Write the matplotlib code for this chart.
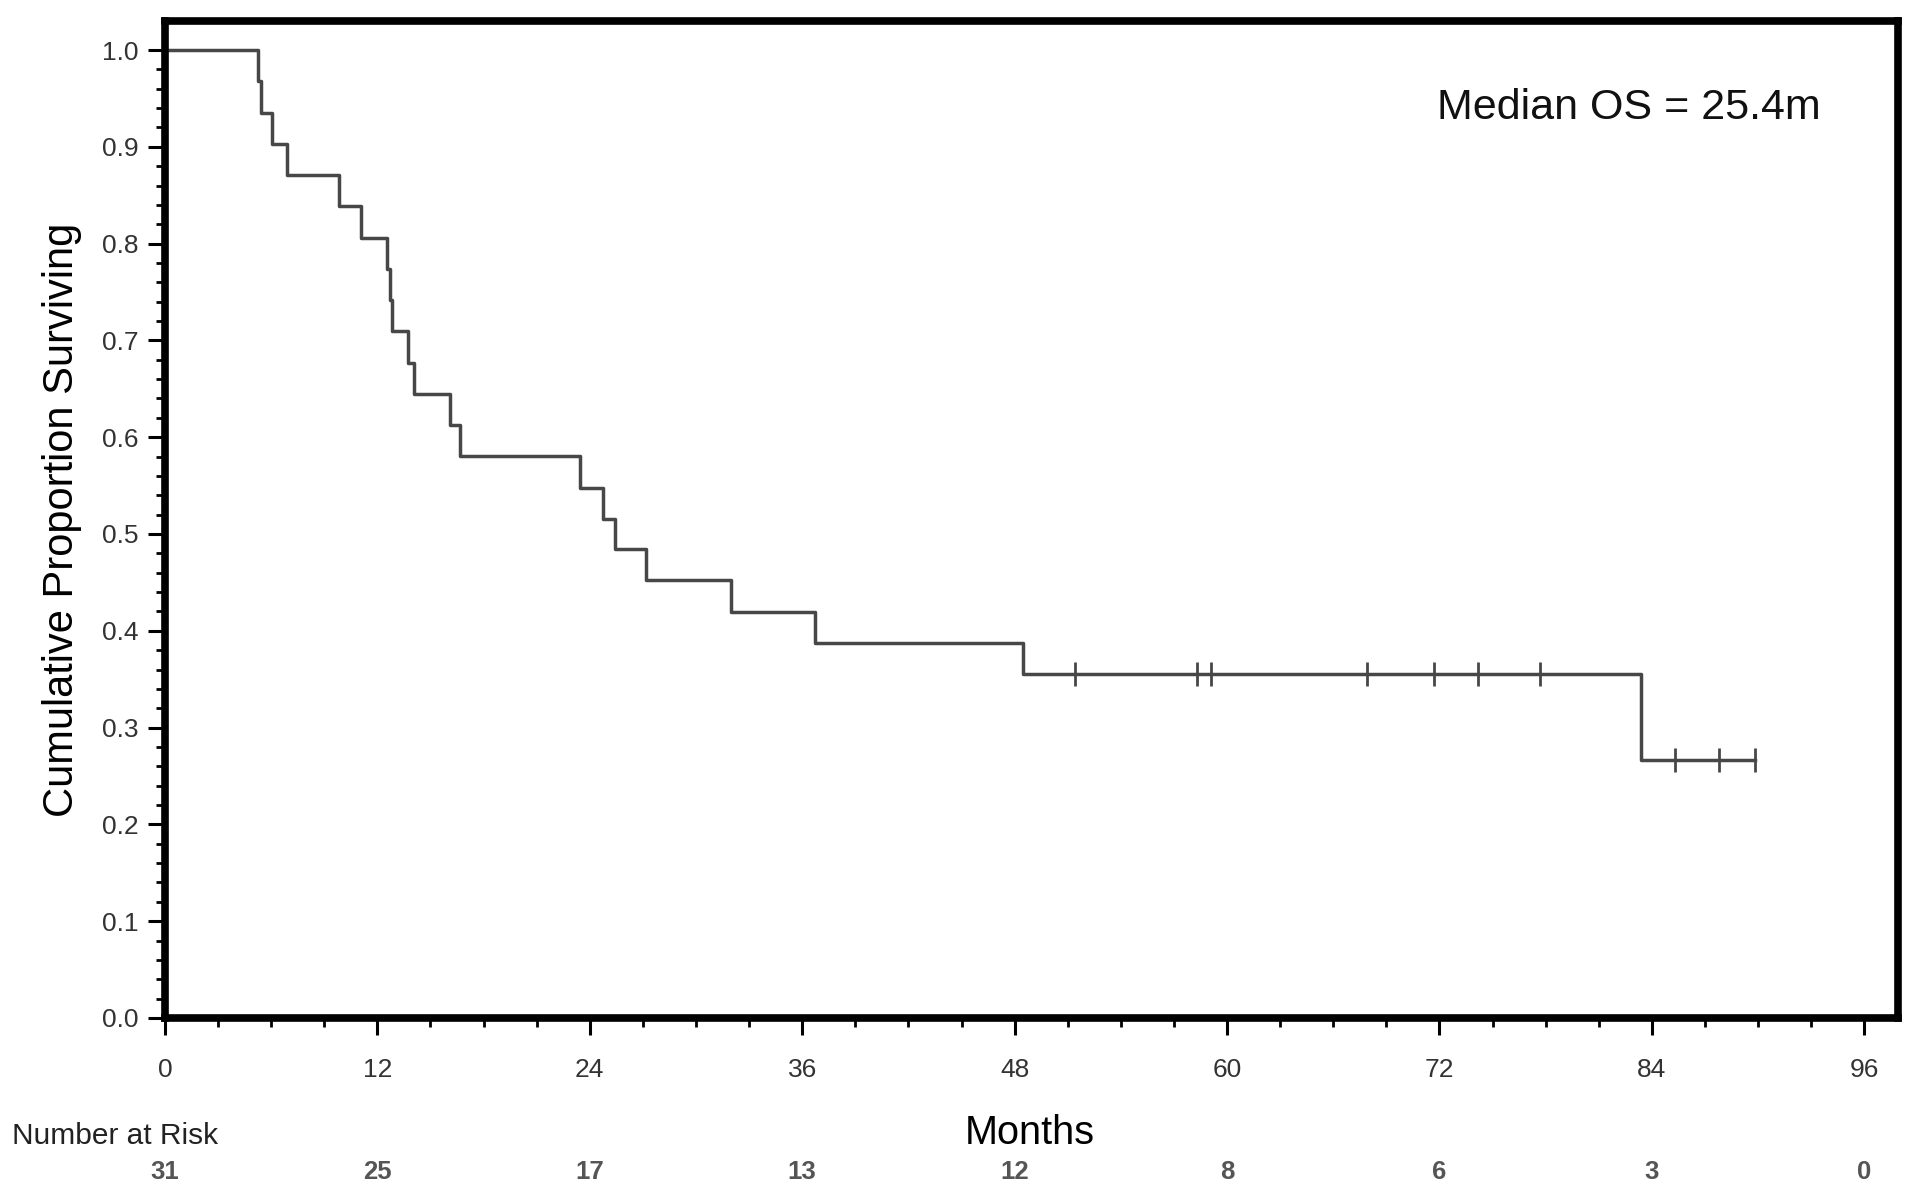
import numpy as np
import matplotlib.pyplot as plt
import matplotlib.transforms as mtransforms

plt.rcParams['font.family'] = ['Liberation Sans', 'DejaVu Sans']

# Kaplan-Meier steps (months, proportion surviving)
step_times = [0, 5.26, 5.43, 6.06, 6.89, 9.83, 11.09, 12.55, 12.7, 12.8, 13.75,
              14.07, 16.09, 16.65, 23.44, 24.75, 25.45, 27.2, 32.0, 36.7, 48.45, 83.4]
surv = [1.0, 0.968, 0.935, 0.903, 0.871, 0.839, 0.806, 0.774, 0.742, 0.710, 0.677,
        0.645, 0.613, 0.581, 0.548, 0.516, 0.484, 0.452, 0.419, 0.387, 0.355, 0.266]
last_time = 89.8

censor_times = [51.4, 58.3, 59.1, 67.9, 71.7, 74.2, 77.7, 85.3, 87.8, 89.8]

risk_times = [0, 12, 24, 36, 48, 60, 72, 84, 96]
at_risk = [31, 25, 17, 13, 12, 8, 6, 3, 0]

median_os = "Median OS = 25.4m"

line_col = '#474747'

fig = plt.figure(figsize=(19.2, 12), dpi=100)
ax = fig.add_axes([0.0859, 0.1517, 0.9885 - 0.0859, 0.9825 - 0.1517])

x = step_times + [last_time]
y = surv + [surv[-1]]
ax.step(x, y, where='post', color=line_col, lw=2.5)

# censor marks sit on the curve
idx = np.searchsorted(step_times, censor_times, side='right') - 1
cens_y = [surv[i] for i in idx]
ax.plot(censor_times, cens_y, ls='none', marker='|', ms=17, mew=2.0, color=line_col)

ax.set_xlim(0, 97.9)
ax.set_ylim(0, 1.03)
ax.set_xticks(risk_times)
ax.set_xticks(np.arange(0, 97, 3), minor=True)
ax.set_yticks(np.arange(0, 1.01, 0.1))
ax.set_yticks(np.arange(0, 1.01, 0.02), minor=True)
ax.set_yticklabels([f'{v:.1f}' for v in np.arange(0, 1.01, 0.1)])

for s in ax.spines.values():
    s.set_linewidth(5.5)
    s.set_color('black')

ax.tick_params(which='major', direction='out', length=12, width=2.2, color='black',
               labelsize=19, labelcolor='#333333', pad=7)
ax.tick_params(which='minor', direction='out', length=6.5, width=2.0, color='black')
ax.tick_params(axis='x', which='major', pad=17)

ax.set_ylabel('Cumulative Proportion Surviving', fontsize=30, color='black', labelpad=14)

ax.text(0.9556, 0.913, median_os, transform=ax.transAxes, ha='right', va='center',
        fontsize=31, color='#111111')

# bottom annotations
trans = mtransforms.blended_transform_factory(ax.transData, fig.transFigure)
fig.text(1030 / 1920, 1 - 1133 / 1200, 'Months', ha='center', va='center', fontsize=28.5,
         color='black')
fig.text(0.006, 1 - 1136 / 1200, 'Number at Risk', ha='left', va='center', fontsize=21.5,
         color='#222222')
for t, n in zip(risk_times, at_risk):
    ax.text(t, 1 - 1172 / 1200, str(n), transform=trans, ha='center', va='center',
            fontsize=18.5, fontweight='bold', color='#555555')

fig.savefig('out.png', dpi=100)
